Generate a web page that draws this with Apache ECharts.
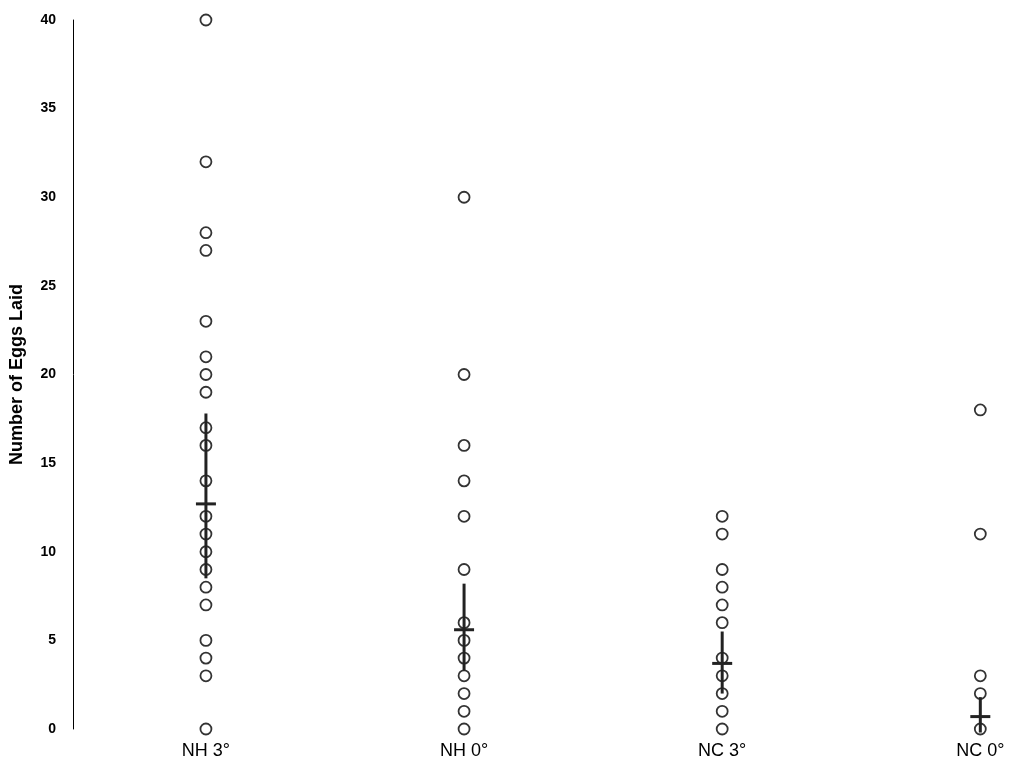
<!DOCTYPE html>
<html>
<head>
<meta charset="utf-8">
<script src="https://cdn.jsdelivr.net/npm/echarts@6/dist/echarts.min.js"></script>
<style>
html,body{margin:0;padding:0;background:#fff;}
#chart{width:1010px;height:765px;}
</style>
</head>
<body>
<div id="chart"></div>
<script>
const categories = ['NH 3°', 'NH 0°', 'NC 3°', 'NC 0°'];
const nh3 = [40, 32, 28, 27, 23, 21, 20, 19, 17, 16, 14, 12, 11, 10, 9, 8, 7, 5, 4, 3, 0];
const nh0 = [30, 20, 16, 14, 12, 9, 6, 5, 4, 3, 2, 1, 0];
const nc3 = [12, 11, 9, 8, 7, 6, 4, 3, 2, 1, 0];
const nc0 = [18, 11, 3, 2, 0];
const means = [12.7, 5.6, 3.7, 0.7];
const lows = [8.5, 3.3, 2.0, -0.2];
const highs = [17.8, 8.2, 5.5, 1.8];
const yTicks = [0, 5, 10, 15, 20, 25, 30, 35, 40];

const groups = [nh3, nh0, nc3, nc0];
const points = [];
groups.forEach((g, i) => g.forEach(v => points.push([i + 1, v])));
const stats = means.map((m, i) => [i + 1, m, lows[i], highs[i]]);

const FONT = "'Liberation Sans', Arial, sans-serif";
const chart = echarts.init(document.getElementById('chart'), null, {renderer: 'canvas'});
chart.setOption({
  backgroundColor: '#fff',
  animation: false,
  grid: {left: 65, right: 0, top: 20, bottom: 36, containLabel: false},
  xAxis: {
    type: 'value',
    min: 0.485,
    max: 4.115,
    axisLine: {show: false},
    axisTick: {show: false},
    splitLine: {show: false},
    axisLabel: {
      customValues: [1, 2, 3, 4],
      formatter: v => categories[Math.round(v) - 1] || '',
      color: '#000',
      fontSize: 18,
      fontFamily: FONT,
      margin: 13
    }
  },
  yAxis: {
    type: 'value',
    min: 0,
    max: 40,
    interval: 5,
    name: 'Number of Eggs Laid',
    nameLocation: 'middle',
    nameRotate: 90,
    nameGap: 47,
    nameTextStyle: {color: '#000', fontSize: 18, fontWeight: 'bold', fontFamily: FONT},
    axisLine: {show: true, lineStyle: {color: '#000', width: 1}},
    axisTick: {show: false},
    splitLine: {show: false},
    axisLabel: {
      customValues: yTicks,
      color: '#000',
      fontSize: 14,
      fontWeight: 'bold',
      fontFamily: FONT,
      margin: 17
    }
  },
  series: [
    {
      type: 'scatter',
      data: points,
      symbol: 'circle',
      symbolSize: 11,
      itemStyle: {color: 'rgba(0,0,0,0)', borderColor: '#000', borderWidth: 1.8},
      z: 2
    },
    {
      type: 'custom',
      data: stats,
      encode: {x: 0, y: [1, 2, 3]},
      z: 3,
      renderItem: function (params, api) {
        const x = api.value(0);
        const pM = api.coord([x, api.value(1)]);
        const pLo = api.coord([x, api.value(2)]);
        const pHi = api.coord([x, api.value(3)]);
        return {
          type: 'group',
          children: [
            {type: 'line', shape: {x1: pHi[0], y1: pHi[1], x2: pLo[0], y2: pLo[1]},
             style: {stroke: '#222', lineWidth: 3}},
            {type: 'line', shape: {x1: pM[0] - 10, y1: pM[1], x2: pM[0] + 10, y2: pM[1]},
             style: {stroke: '#222', lineWidth: 3}}
          ]
        };
      }
    }
  ]
});
</script>
</body>
</html>
